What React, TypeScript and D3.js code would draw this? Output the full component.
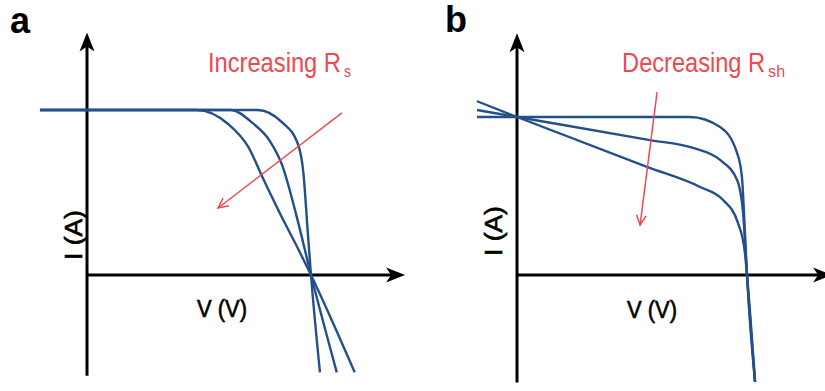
import * as d3 from 'd3';

type Pt = [number, number];

// panel a: series resistance sweep (V, I in units of Voc / Isc)
const rsLow: Pt[] = [[-0.21, 1], [0.35, 1], [0.76, 1], [0.875, 0.92], [0.94, 0.8], [0.966, 0.62], [0.985, 0.27], [1, 0], [1.04, -0.59]];
const rsMid: Pt[] = [[-0.21, 1], [0.3, 1], [0.64, 1], [0.74, 0.92], [0.815, 0.815], [0.87, 0.67], [0.935, 0.36], [1, 0], [1.115, -0.59]];
const rsHigh: Pt[] = [[-0.21, 1], [0.25, 1], [0.49, 1], [0.63, 0.915], [0.72, 0.776], [0.786, 0.585], [0.87, 0.35], [0.94, 0.165], [1, 0], [1.195, -0.59]];

// panel b: shunt resistance sweep
const rshHigh: Pt[] = [[-0.174, 1], [0.4, 1], [0.752, 1], [0.883, 0.937], [0.957, 0.772], [0.978, 0.62], [0.99, 0.3], [1, 0], [1.035, -0.677]];
const rshMid: Pt[] = [[-0.174, 1.044], [0, 1], [0.578, 0.854], [0.765, 0.804], [0.883, 0.728], [0.957, 0.601], [0.983, 0.392], [1, 0], [1.035, -0.677]];
const rshLow: Pt[] = [[-0.174, 1.1], [0, 1], [0.565, 0.684], [0.796, 0.557], [0.896, 0.475], [0.961, 0.329], [0.991, 0.139], [1, 0], [1.035, -0.677]];

const panelLabels = ['a', 'b'];
const trendText = ['Increasing R', 'Decreasing R'];
const trendSub = ['s', 'sh'];
const xTitle = 'V (V)';
const yTitle = 'I (A)';

// annotation anchors in data units
const trendArrowA: Pt[] = [[1.138, 0.982], [0.585, 0.406]];
const trendArrowB: Pt[] = [[0.609, 1.158], [0.535, 0.316]];

const BLUE = '#24508a';
const RED = '#ec4a52';

function Arrowhead({ x, y, angle }: { x: number; y: number; angle: number }) {
  return (
    <path
      d="M0,0 L-19,-7.5 L-14,0 L-19,7.5 Z"
      fill="#000"
      transform={`translate(${x},${y}) rotate(${angle})`}
    />
  );
}

interface PanelProps {
  idx: number;
  xRange: [number, number];
  yRange: [number, number];
  vExtent: [number, number];
  iExtent: [number, number];
  curves: Pt[][];
  arrow: Pt[];
  textPos: Pt;
  textLen: number;
  subLen: number;
  labelPos: [number, number];
  xTitlePos: Pt;
  yTitlePos: Pt;
}

function Panel(p: PanelProps) {
  const x = d3.scaleLinear().domain([0, 1]).range(p.xRange);
  const y = d3.scaleLinear().domain([0, 1]).range(p.yRange);
  const line = d3
    .line<Pt>()
    .x((d) => x(d[0]))
    .y((d) => y(d[1]))
    .curve(d3.curveMonotoneX);

  const [a0, a1] = p.arrow;
  const ax0 = x(a0[0]), ay0 = y(a0[1]), ax1 = x(a1[0]), ay1 = y(a1[1]);
  const ang = Math.atan2(ay1 - ay0, ax1 - ax0);
  const hl = 11, hw = 0.45;

  return (
    <g>
      <text x={p.labelPos[0]} y={p.labelPos[1]} fontSize={36} fontWeight="bold" fontFamily="Liberation Sans, Arial, sans-serif">
        {panelLabels[p.idx]}
      </text>

      {/* axes */}
      <line x1={x(0)} x2={x(0)} y1={y(p.iExtent[0])} y2={y(p.iExtent[1]) + 8} stroke="#000" strokeWidth={3} />
      <Arrowhead x={x(0)} y={y(p.iExtent[1])} angle={-90} />
      <line x1={x(0)} x2={x(p.vExtent[1]) - 8} y1={y(0)} y2={y(0)} stroke="#000" strokeWidth={3} />
      <Arrowhead x={x(p.vExtent[1])} y={y(0)} angle={0} />

      {/* IV curves */}
      {p.curves.map((c, i) => (
        <path key={i} d={line(c) ?? ''} fill="none" stroke={BLUE} strokeWidth={2.4} />
      ))}

      {/* trend arrow */}
      <line x1={ax0} y1={ay0} x2={ax1} y2={ay1} stroke={RED} strokeWidth={1.5} />
      <path
        d={`M${ax1 - hl * Math.cos(ang - hw)},${ay1 - hl * Math.sin(ang - hw)} L${ax1},${ay1} L${ax1 - hl * Math.cos(ang + hw)},${ay1 - hl * Math.sin(ang + hw)}`}
        fill="none"
        stroke={RED}
        strokeWidth={1.5}
      />

      <text fill={RED} fontFamily="Liberation Sans, Arial, sans-serif">
        <tspan x={x(p.textPos[0])} y={y(p.textPos[1])} fontSize={27} textLength={p.textLen} lengthAdjust="spacingAndGlyphs">
          {trendText[p.idx]}
        </tspan>
        <tspan dx={3} dy={5} fontSize={17} textLength={p.subLen} lengthAdjust="spacingAndGlyphs">
          {trendSub[p.idx]}
        </tspan>
      </text>

      <text
        x={x(p.xTitlePos[0])}
        y={y(p.xTitlePos[1])}
        textAnchor="middle"
        fontSize={23}
        fontFamily="Liberation Sans, Arial, sans-serif"
        stroke="#000"
        strokeWidth={0.6}
        textLength={50}
        lengthAdjust="spacingAndGlyphs"
      >
        {xTitle}
      </text>
      <text
        transform={`translate(${x(p.yTitlePos[0])},${y(p.yTitlePos[1])}) rotate(-90)`}
        textAnchor="middle"
        fontSize={23}
        fontFamily="Liberation Sans, Arial, sans-serif"
        stroke="#000"
        strokeWidth={0.6}
        textLength={50}
        lengthAdjust="spacingAndGlyphs"
      >
        {yTitle}
      </text>
    </g>
  );
}

export default function App() {
  return (
    <svg width={825} height={391} style={{ position: 'absolute', left: 0, top: 0, background: '#fff' }}>
      <Panel
        idx={0}
        xRange={[87, 311]}
        yRange={[275, 110]}
        vExtent={[0, 1.42]}
        iExtent={[-0.61, 1.47]}
        curves={[rsLow, rsMid, rsHigh]}
        arrow={trendArrowA}
        textPos={[0.54, 1.23]}
        textLen={133}
        subLen={7}
        labelPos={[10, 33]}
        xTitlePos={[0.603, -0.255]}
        yTitlePos={[-0.022, 0.242]}
      />
      <Panel
        idx={1}
        xRange={[517, 747]}
        yRange={[275, 117]}
        vExtent={[0, 1.37]}
        iExtent={[-0.68, 1.53]}
        curves={[rshHigh, rshMid, rshLow]}
        arrow={trendArrowB}
        textPos={[0.457, 1.285]}
        textLen={143}
        subLen={17}
        labelPos={[445, 32]}
        xTitlePos={[0.587, -0.272]}
        yTitlePos={[-0.065, 0.278]}
      />
    </svg>
  );
}
